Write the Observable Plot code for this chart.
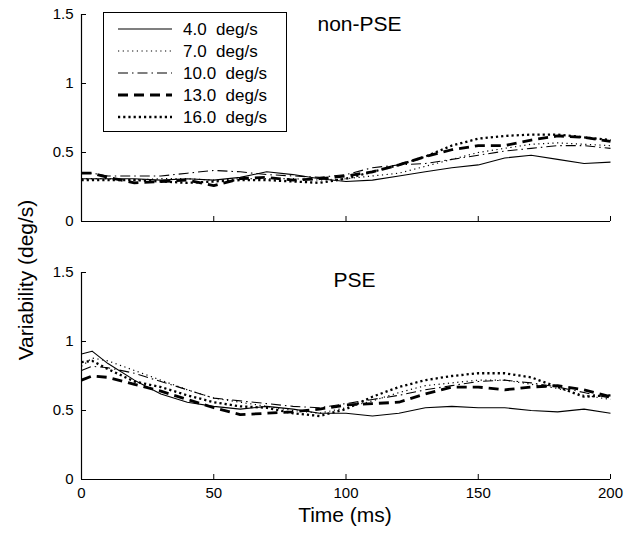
<!DOCTYPE html>
<html><head><meta charset="utf-8">
<script src="https://cdn.jsdelivr.net/npm/d3@7"></script>
<script src="https://cdn.jsdelivr.net/npm/@observablehq/plot@0.6"></script>
<style>
body{margin:0;background:#fff;}
#wrap{position:relative;width:639px;height:539px;font-family:"Liberation Sans",Arial,sans-serif;}
#wrap svg{display:block;}
#overlay{position:absolute;left:0;top:0;pointer-events:none;}
</style>
</head><body><div id="wrap"></div>
<script>
// ---- data ----
const times = [0, 4, 10, 20, 30, 40, 50, 60, 70, 80, 90, 100, 110, 120, 130, 140, 150, 160, 170, 180, 190, 200];
const panels = ["non-PSE", "PSE"];
const speeds = ["4.0", "7.0", "10.0", "13.0", "16.0"];
const xTicks = [0, 50, 100, 150, 200];
const yTicks = [0, 0.5, 1, 1.5];

const nonPse4  = [0.31, 0.31, 0.31, 0.31, 0.30, 0.31, 0.30, 0.32, 0.36, 0.34, 0.31, 0.29, 0.30, 0.33, 0.36, 0.39, 0.41, 0.46, 0.48, 0.45, 0.42, 0.43];
const nonPse7  = [0.31, 0.31, 0.31, 0.30, 0.31, 0.31, 0.30, 0.31, 0.31, 0.31, 0.30, 0.31, 0.33, 0.35, 0.40, 0.45, 0.50, 0.53, 0.56, 0.57, 0.56, 0.55];
const nonPse10 = [0.35, 0.35, 0.33, 0.33, 0.33, 0.35, 0.37, 0.36, 0.34, 0.33, 0.32, 0.34, 0.39, 0.41, 0.42, 0.45, 0.48, 0.51, 0.53, 0.55, 0.55, 0.53];
const nonPse13 = [0.35, 0.35, 0.32, 0.28, 0.29, 0.30, 0.26, 0.31, 0.32, 0.30, 0.31, 0.33, 0.36, 0.41, 0.47, 0.52, 0.55, 0.55, 0.59, 0.62, 0.61, 0.58];
const nonPse16 = [0.30, 0.30, 0.30, 0.30, 0.29, 0.28, 0.29, 0.30, 0.30, 0.29, 0.28, 0.31, 0.36, 0.41, 0.47, 0.55, 0.60, 0.62, 0.63, 0.63, 0.61, 0.59];

const pse4  = [0.91, 0.93, 0.84, 0.72, 0.62, 0.56, 0.53, 0.51, 0.53, 0.51, 0.48, 0.48, 0.46, 0.48, 0.52, 0.53, 0.52, 0.52, 0.50, 0.49, 0.51, 0.48];
const pse7  = [0.82, 0.88, 0.86, 0.79, 0.72, 0.65, 0.59, 0.56, 0.53, 0.50, 0.48, 0.52, 0.57, 0.63, 0.68, 0.70, 0.72, 0.72, 0.69, 0.66, 0.61, 0.58];
const pse10 = [0.79, 0.82, 0.81, 0.77, 0.71, 0.65, 0.59, 0.57, 0.55, 0.53, 0.52, 0.55, 0.58, 0.61, 0.65, 0.68, 0.71, 0.72, 0.70, 0.67, 0.63, 0.59];
const pse13 = [0.72, 0.75, 0.74, 0.69, 0.64, 0.58, 0.52, 0.47, 0.48, 0.49, 0.51, 0.54, 0.55, 0.56, 0.62, 0.67, 0.67, 0.65, 0.67, 0.68, 0.65, 0.60];
const pse16 = [0.85, 0.86, 0.80, 0.71, 0.67, 0.61, 0.56, 0.53, 0.52, 0.48, 0.46, 0.51, 0.60, 0.67, 0.72, 0.75, 0.77, 0.77, 0.74, 0.67, 0.60, 0.61];

const seriesByPanel = {
  "non-PSE": [nonPse4, nonPse7, nonPse10, nonPse13, nonPse16],
  "PSE": [pse4, pse7, pse10, pse13, pse16]
};

// ---- styles ----
const styles = {
  "4.0":  {strokeWidth: 1.1},
  "7.0":  {strokeWidth: 1.2, strokeDasharray: "1.2,3.5"},
  "10.0": {strokeWidth: 1.1, strokeDasharray: "10,4,1.5,4"},
  "13.0": {strokeWidth: 2.8, strokeDasharray: "10,6"},
  "16.0": {strokeWidth: 2.3, strokeDasharray: "2.2,3"}
};

const rows = [];
panels.forEach(p => seriesByPanel[p].forEach((vals, si) => vals.forEach((v, i) =>
  rows.push({panel: p, speed: speeds[si], t: times[i], v}))));

const W = 639, H = 539;
const mL = 81, mR = 29, mT = 14, mB = 59;
const gap = 51;
const band = (H - mT - mB - gap) / 2;
const tickPx = 5;
const yPerPx = 1.5 / band, xPerPx = 200 / (W - mL - mR);
const font = '"Liberation Sans", Arial, sans-serif';

const chart = Plot.plot({
  width: W, height: H,
  marginLeft: mL, marginRight: mR, marginTop: mT, marginBottom: mB,
  style: {fontFamily: font, fontSize: "15px", color: "#000", background: "#fff", overflow: "visible"},
  x: {domain: [0, 200], ticks: xTicks, tickSize: 0, tickPadding: 8, label: null},
  y: {domain: [0, 1.5], ticks: yTicks, tickSize: 0, tickPadding: 8, label: null, tickFormat: d => String(d)},
  fy: {domain: panels, paddingInner: gap / (band + gap), paddingOuter: 0, axis: null, label: null},
  marks: [
    Plot.ruleX([0], {y1: 0, y2: 1.5, stroke: "#000", strokeWidth: 1.2}),
    Plot.ruleY([0], {x1: 0, x2: 200, stroke: "#000", strokeWidth: 1.2}),
    Plot.ruleX(xTicks, {y1: 0, y2: tickPx * yPerPx, stroke: "#000"}),
    Plot.ruleY(yTicks, {x1: 0, x2: tickPx * xPerPx, stroke: "#000"}),
    ...speeds.map(s => Plot.line(rows.filter(r => r.speed === s), {
      x: "t", y: "v", fy: "panel", stroke: "#000", strokeLinecap: "butt", ...styles[s]
    })),
    Plot.text([{panel: "non-PSE", label: "non-PSE"}], {fy: "panel", text: "label", frameAnchor: "top-left",
      textAnchor: "start", lineAnchor: "top", dx: 236, dy: 2, fontSize: 21, fill: "#000"}),
    Plot.text([{panel: "PSE", label: "PSE"}], {fy: "panel", text: "label", frameAnchor: "top-left",
      textAnchor: "start", lineAnchor: "top", dx: 252, dy: 0, fontSize: 21, fill: "#000"})
  ]
});

const wrap = document.getElementById("wrap");
wrap.appendChild(chart);

// ---- overlay: axis titles and legend ----
const svg = d3.select(wrap).append("svg").attr("id", "overlay")
  .attr("width", W).attr("height", H)
  .style("font-family", font);

svg.append("text").attr("transform", "translate(33,280) rotate(-90)")
  .attr("text-anchor", "middle").attr("font-size", 21).attr("fill", "#000")
  .text("Variability (deg/s)");
svg.append("text").attr("x", 345).attr("y", 522)
  .attr("text-anchor", "middle").attr("font-size", 21).attr("fill", "#000")
  .text("Time (ms)");

const lg = svg.append("g").attr("transform", "translate(103,12)");
lg.append("rect").attr("x", 0.5).attr("y", 0.5).attr("width", 183).attr("height", 119)
  .attr("fill", "#fff").attr("stroke", "#000").attr("stroke-width", 1);
speeds.forEach((s, i) => {
  const y = 17 + i * 22;
  const st = styles[s];
  lg.append("line").attr("x1", 15).attr("x2", 69).attr("y1", y).attr("y2", y)
    .attr("stroke", "#000").attr("stroke-width", st.strokeWidth)
    .attr("stroke-dasharray", st.strokeDasharray || null);
  lg.append("text").attr("x", 80).attr("y", y).attr("dy", "0.36em")
    .attr("font-size", 17).attr("fill", "#000").attr("xml:space", "preserve")
    .style("white-space", "pre").text(`${s}  deg/s`);
});
</script>
</body></html>
